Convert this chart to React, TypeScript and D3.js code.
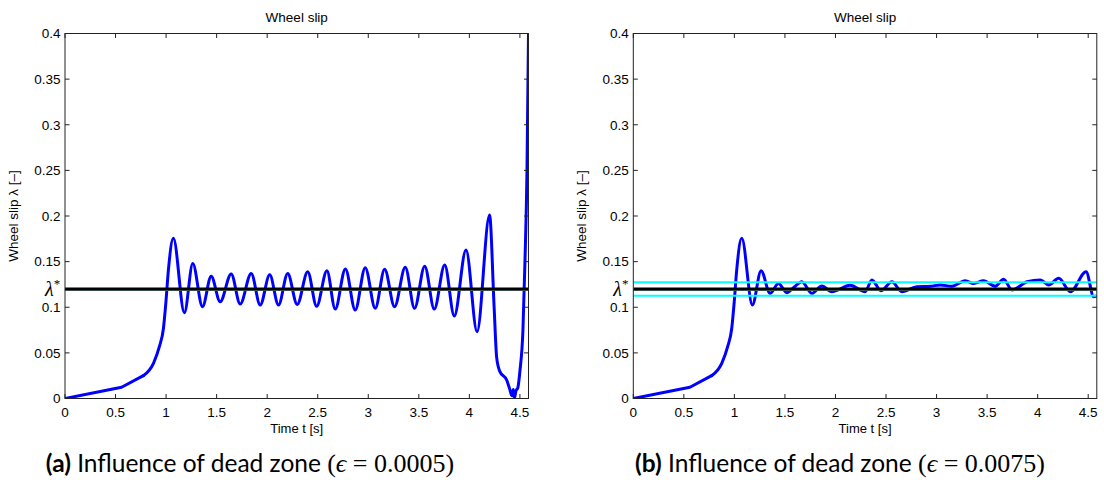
import React from 'react';
import * as d3 from 'd3';

// Panel (a): dead zone 0.0005
const timeA = [0, 0.56, 0.775, 0.875, 0.934, 0.974, 0.997, 1.023, 1.072, 1.181, 1.264, 1.36, 1.446, 1.535, 1.644, 1.733, 1.842, 1.931, 2.025, 2.112, 2.203, 2.297, 2.401, 2.489, 2.591, 2.673, 2.774, 2.871, 2.97, 3.069, 3.162, 3.26, 3.366, 3.458, 3.558, 3.653, 3.756, 3.851, 3.967, 4.076, 4.2, 4.245, 4.27, 4.3, 4.37, 4.4, 4.42, 4.435, 4.445, 4.46, 4.48, 4.5, 4.53, 4.55, 4.57, 4.585];
const slipA = [0, 0.0123, 0.025, 0.0386, 0.057, 0.077, 0.104, 0.141, 0.1756, 0.094, 0.148, 0.1006, 0.134, 0.106, 0.1364, 0.1036, 0.137, 0.1025, 0.1355, 0.1025, 0.137, 0.103, 0.139, 0.101, 0.14, 0.098, 0.142, 0.097, 0.1434, 0.0988, 0.1416, 0.1006, 0.1437, 0.0988, 0.145, 0.098, 0.1463, 0.0904, 0.1627, 0.0732, 0.201, 0.1, 0.045, 0.03, 0.02, 0.01, 0.003, 0.01, 0.0, 0.008, 0.012, 0.03, 0.075, 0.15, 0.25, 0.4];

// Panel (b): dead zone 0.0075
const timeB = [0, 0.56, 0.775, 0.875, 0.934, 0.974, 0.997, 1.023, 1.073, 1.178, 1.264, 1.353, 1.436, 1.518, 1.59, 1.667, 1.766, 1.865, 1.964, 2.145, 2.294, 2.36, 2.45, 2.558, 2.657, 2.806, 2.937, 3.037, 3.15, 3.284, 3.366, 3.465, 3.58, 3.663, 3.746, 3.895, 4.027, 4.109, 4.208, 4.324, 4.479, 4.554, 4.575];
const slipB = [0, 0.0123, 0.025, 0.0386, 0.057, 0.077, 0.104, 0.141, 0.1755, 0.1025, 0.14, 0.1153, 0.126, 0.116, 0.122, 0.128, 0.1153, 0.1233, 0.117, 0.124, 0.117, 0.13, 0.118, 0.128, 0.117, 0.1225, 0.123, 0.1244, 0.123, 0.129, 0.126, 0.129, 0.123, 0.1306, 0.119, 0.128, 0.13, 0.1244, 0.1317, 0.117, 0.139, 0.1116, 0.112];

const xTicks = [0, 0.5, 1, 1.5, 2, 2.5, 3, 3.5, 4, 4.5];
const xTickLabels = ['0', '0.5', '1', '1.5', '2', '2.5', '3', '3.5', '4', '4.5'];
const yTicks = [0, 0.05, 0.1, 0.15, 0.2, 0.25, 0.3, 0.35, 0.4];
const yTickLabels = ['0', '0.05', '0.1', '0.15', '0.2', '0.25', '0.3', '0.35', '0.4'];
const lambdaStar = 0.12;
const epsA = 0.0005;
const epsB = 0.0075;
const tMax = 4.585;
const linearLead = 3; // first points are joined by straight segments

const SANS = '"Liberation Sans", Arial, Helvetica, sans-serif';
const SERIF = '"Liberation Serif", "DejaVu Serif", serif';

interface PanelProps {
  id: string;
  x0: number;
  time: number[];
  slip: number[];
  band: number | null;
}

function Panel({ id, x0, time, slip, band }: PanelProps) {
  const W = 463.5;
  const top = 33.5;
  const bottom = 398.5;
  const x = d3.scaleLinear().domain([0, tMax]).range([x0, x0 + W]);
  const y = d3.scaleLinear().domain([0, 0.4]).range([bottom, top]);
  const pts: [number, number][] = time.map((t, i) => [t, slip[i]]);
  const lineLin = d3
    .line<[number, number]>()
    .x((d) => x(d[0]))
    .y((d) => y(d[1]));
  const lineSmooth = d3
    .line<[number, number]>()
    .x((d) => x(d[0]))
    .y((d) => y(d[1]))
    .curve(d3.curveMonotoneX);
  const d1 = lineLin(pts.slice(0, linearLead)) || '';
  const d2 = lineSmooth(pts.slice(linearLead - 1)) || '';
  const tl = 4.5;
  const axisColor = '#222';
  const cx = x0 + W / 2;
  return (
    <g>
      <defs>
        <clipPath id={`clip-${id}`}>
          <rect x={x0} y={top} width={W} height={bottom - top} />
        </clipPath>
      </defs>
      <text x={cx} y={22} fontFamily={SANS} fontSize={13.5} textAnchor="middle" fill="#000">
        Wheel slip
      </text>
      <g clipPath={`url(#clip-${id})`}>
        <path d={d1} fill="none" stroke="#0000ff" strokeWidth={3} strokeLinejoin="round" strokeLinecap="round" />
        <path d={d2} fill="none" stroke="#0000ff" strokeWidth={3} strokeLinejoin="round" strokeLinecap="round" />
        {band !== null && (
          <>
            <line x1={x0} x2={x0 + W} y1={y(lambdaStar + band)} y2={y(lambdaStar + band)} stroke="#00ffff" strokeWidth={2} />
            <line x1={x0} x2={x0 + W} y1={y(lambdaStar - band)} y2={y(lambdaStar - band)} stroke="#00ffff" strokeWidth={2} />
          </>
        )}
        <line x1={x0} x2={x0 + W} y1={y(lambdaStar) + 1.2} y2={y(lambdaStar) + 1.2} stroke="#6e9e9e" strokeWidth={1.5} />
        <line x1={x0} x2={x0 + W} y1={y(lambdaStar)} y2={y(lambdaStar)} stroke="#000" strokeWidth={3.2} />
      </g>
      <rect x={x0} y={top} width={W} height={bottom - top} fill="none" stroke={axisColor} strokeWidth={1} />
      {xTicks.map((t, i) => (
        <g key={`xt${i}`}>
          <line x1={x(t)} x2={x(t)} y1={bottom} y2={bottom - tl} stroke={axisColor} strokeWidth={1} />
          <line x1={x(t)} x2={x(t)} y1={top} y2={top + tl} stroke={axisColor} strokeWidth={1} />
          <text x={x(t)} y={417} fontFamily={SANS} fontSize={13.5} textAnchor="middle" fill="#000">
            {xTickLabels[i]}
          </text>
        </g>
      ))}
      {yTicks.map((v, i) => (
        <g key={`yt${i}`}>
          <line x1={x0} x2={x0 + tl} y1={y(v)} y2={y(v)} stroke={axisColor} strokeWidth={1} />
          <line x1={x0 + W} x2={x0 + W - tl} y1={y(v)} y2={y(v)} stroke={axisColor} strokeWidth={1} />
          <text x={x0 - 4.5} y={y(v) + 4.8} fontFamily={SANS} fontSize={13.5} textAnchor="end" fill="#000">
            {yTickLabels[i]}
          </text>
        </g>
      ))}
      <text x={cx} y={433} fontFamily={SANS} fontSize={13} textAnchor="middle" fill="#000">
        Time t [s]
      </text>
      <text
        transform={`translate(${x0 - 47},${(top + bottom) / 2}) rotate(-90)`}
        fontFamily={SANS}
        fontSize={13.5}
        textAnchor="middle"
        fill="#000"
      >
        Wheel slip λ [–]
      </text>
      <text x={x0 - 20} y={y(lambdaStar) + 7} fontFamily={SERIF} fontStyle="italic" fontSize={20} fill="#000">
        λ
        <tspan fontStyle="normal" fontSize={13} dy={-8}>
          *
        </tspan>
      </text>
    </g>
  );
}

function Caption({ cx, letter, eps }: { cx: number; letter: string; eps: number }) {
  return (
    <text x={cx} y={472} fontSize={24.5} fill="#000" fontFamily='Lato, "Open Sans", sans-serif' textAnchor="middle">
      <tspan fontWeight="bold">({letter})</tspan>
      <tspan> Influence of dead zone </tspan>
      <tspan fontFamily={SERIF} fontSize={26}>(</tspan>
      <tspan fontFamily={SERIF} fontStyle="italic" fontSize={26}>ϵ</tspan>
      <tspan fontFamily={SERIF} fontSize={26}> = {eps.toFixed(4)})</tspan>
    </text>
  );
}

export default function App() {
  return (
    <svg
      width={1104}
      height={490}
      viewBox="0 0 1104 490"
      style={{ position: 'absolute', left: 0, top: 0, background: '#fff' }}
    >
      <rect width={1104} height={490} fill="#fff" />
      <Panel id="a" x0={65} time={timeA} slip={slipA} band={null} />
      <Panel id="b" x0={633.3} time={timeB} slip={slipB} band={epsB} />
      <Caption cx={250} letter="a" eps={epsA} />
      <Caption cx={840} letter="b" eps={epsB} />
    </svg>
  );
}
